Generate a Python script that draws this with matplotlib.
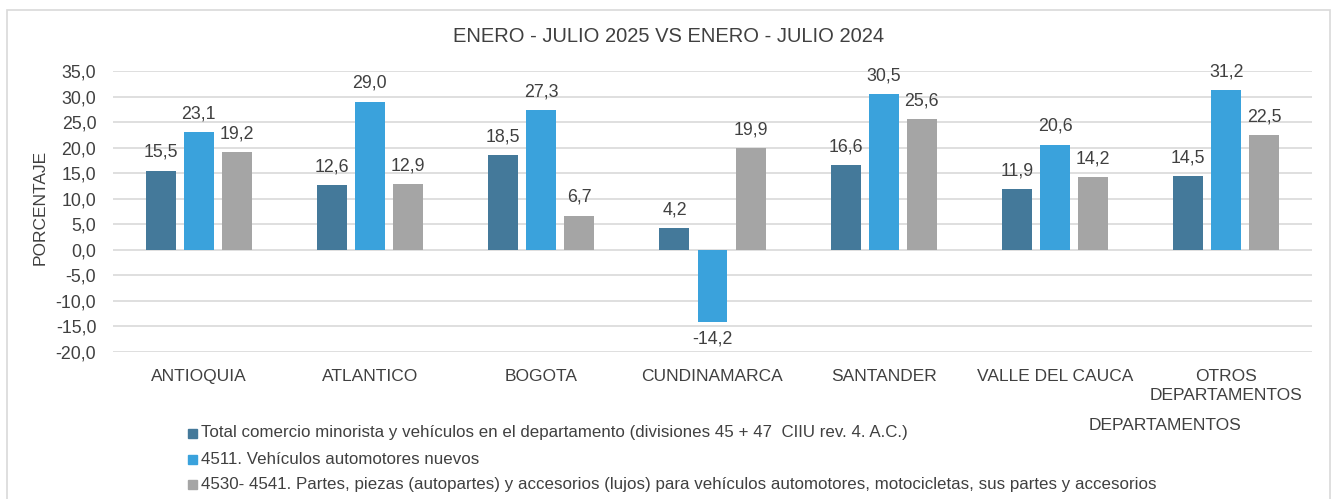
import matplotlib
matplotlib.use("Agg")
import matplotlib.pyplot as plt
from matplotlib.patches import Rectangle
from matplotlib import font_manager
import numpy as np

names = {f.name for f in font_manager.fontManager.ttflist}
base_font = "Liberation Sans Narrow" if "Liberation Sans Narrow" in names else "Liberation Sans"
plt.rcParams["font.family"] = [base_font, "DejaVu Sans"]

categories = ["ANTIOQUIA", "ATLANTICO", "BOGOTA", "CUNDINAMARCA", "SANTANDER",
              "VALLE DEL CAUCA", "OTROS\nDEPARTAMENTOS"]
total_comercio = [15.5, 12.6, 18.5, 4.2, 16.6, 11.9, 14.5]
vehiculos_nuevos = [23.1, 29.0, 27.3, -14.2, 30.5, 20.6, 31.2]
partes_piezas = [19.2, 12.9, 6.7, 19.9, 25.6, 14.2, 22.5]
series_labels = [
    "Total comercio minorista y vehículos en el departamento (divisiones 45 + 47  CIIU rev. 4. A.C.)",
    "4511. Vehículos automotores nuevos",
    "4530- 4541. Partes, piezas (autopartes) y accesorios (lujos) para vehículos automotores, motocicletas, sus partes y accesorios",
]
yticks = [-20, -15, -10, -5, 0, 5, 10, 15, 20, 25, 30, 35]

colors = ["#44799A", "#3AA2DC", "#A5A5A5"]
text_color = "#404040"
W, H = 1334, 499

fig = plt.figure(figsize=(W / 100, H / 100), dpi=100)
fig.patch.set_facecolor("white")

# outer chart frame
fig.patches.append(Rectangle((7 / W, -0.01), (1330 - 7) / W, 1 - 10 / H + 0.01,
                             transform=fig.transFigure, fill=False,
                             edgecolor="#D9D9D9", linewidth=1.2))

ax = fig.add_axes([113 / W, 1 - 352 / H, (1312 - 113) / W, (352 - 71) / H])
x = np.arange(len(categories))
width = 0.175
step = 0.222
all_series = [total_comercio, vehiculos_nuevos, partes_piezas]
for i, (vals, col) in enumerate(zip(all_series, colors)):
    pos = x + (i - 1) * step
    bars = ax.bar(pos, vals, width=width, color=col, zorder=3)
    for b, v in zip(bars, vals):
        cx = b.get_x() + b.get_width() / 2
        lab = f"{v:.1f}".replace(".", ",")
        if v >= 0:
            ax.annotate(lab, (cx, v), xytext=(0, 7), textcoords="offset points",
                        ha="center", va="bottom", fontsize=12.8, color=text_color)
        else:
            ax.annotate(lab, (cx, v), xytext=(0, -6), textcoords="offset points",
                        ha="center", va="top", fontsize=12.8, color=text_color)

ax.set_xlim(-0.5, len(categories) - 0.5)
ax.set_ylim(-20, 35)
ax.set_yticks(yticks)
ax.set_yticklabels([f"{t:.1f}".replace(".", ",") for t in yticks],
                   fontsize=12.8, color=text_color)
ax.set_xticks(x)
ax.set_xticklabels(categories, fontsize=12.5, color=text_color, linespacing=1.35)
ax.tick_params(axis="both", length=0)
ax.tick_params(axis="x", pad=12)
ax.tick_params(axis="y", pad=12)
ax.grid(axis="y", color="#D9D9D9", linewidth=1.2, zorder=0)
for s in ax.spines.values():
    s.set_visible(False)
ax.set_ylabel("PORCENTAJE", fontsize=12.5, color=text_color)
ax.yaxis.set_label_coords((48 - 113) / (1312 - 113), (352 - 207) / (352 - 71))

fig.text(669 / W, 1 - 37 / H, "ENERO - JULIO 2025 VS ENERO - JULIO 2024",
         ha="center", va="center", fontsize=14.5, color=text_color)
fig.text(1165 / W, 1 - 425 / H, "DEPARTAMENTOS", ha="center", va="center",
         fontsize=12.5, color=text_color)

# legend drawn as swatches plus text
rows_y = [433, 459, 484]
for lab, col, yy in zip(series_labels, colors, rows_y):
    fig.patches.append(Rectangle((188 / W, 1 - (yy + 5) / H), 9 / W, 9 / H,
                                 transform=fig.transFigure, color=col))
    fig.text(201 / W, 1 - yy / H, lab, ha="left", va="center",
             fontsize=12.2, color=text_color)

fig.savefig("out.png", dpi=100)
